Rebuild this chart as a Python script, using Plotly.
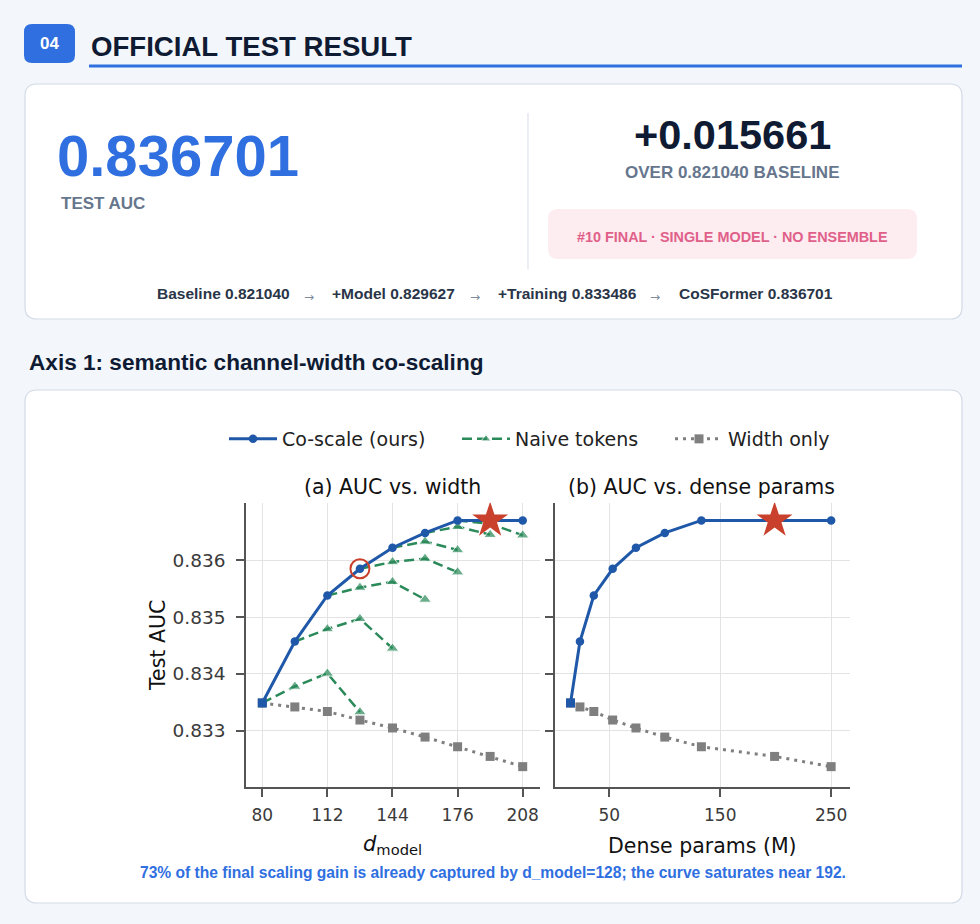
import plotly.graph_objects as go

W, H = 980, 924

# ---- data ----
d_model = [80, 96, 112, 128, 144, 160, 176, 192, 208]
dense_params_m = [15, 23.5, 36, 53, 74, 100, 133, 199, 250]
coscale_auc = [0.83349, 0.83457, 0.83538, 0.83585, 0.83622, 0.83648, 0.83670, 0.836701, 0.83670]
width_only_auc = [0.83349, 0.83342, 0.83334, 0.83319, 0.83305, 0.83289, 0.83272, 0.83255, 0.83237]

# naive-token branches, each starting on a co-scale point
naive_start_d = [80, 96, 112, 128, 144, 160, 176]
naive_branch_auc = [
    [0.83349, 0.83378, 0.83401, 0.83333],
    [0.83457, 0.83479, 0.83497, 0.83445],
    [0.83538, 0.83552, 0.83562, 0.83531],
    [0.83585, 0.83597, 0.83603, 0.83579],
    [0.83622, 0.83633, 0.83618],
    [0.83648, 0.83659, 0.83645],
    [0.83670, 0.83664, 0.83644],
]

best_d = 192
best_params = 199
best_auc = 0.836701
knee_d = 128
knee_auc = 0.83585

x_ticks_a = [80, 112, 144, 176, 208]
x_ticks_b = [50, 150, 250]
y_ticks = [0.833, 0.834, 0.835, 0.836]

test_auc = "0.836701"
delta_auc = "+0.015661"
baseline_txt = "OVER 0.821040 BASELINE"
badge_txt = "#10 FINAL · SINGLE MODEL · NO ENSEMBLE"
steps = ["Baseline 0.821040", "+Model 0.829627", "+Training 0.833486", "CoSFormer 0.836701"]
caption = "73% of the final scaling gain is already captured by d_model=128; the curve saturates near 192."

BLUE = "#1f58a8"
GREEN = "#2b8a5a"
GREY = "#7f7f7f"
RED = "#c9412c"
ACCENT = "#2f6fdf"
NAVY = "#0f1b33"
MUTED = "#66768d"
CHART_FONT = "DejaVu Sans"
UI_FONT = "Liberation Sans"


def px(x):
    return x / W


def py(y):
    return 1 - y / H


def rrect(x0, y0, x1, y1, r):
    def P(x, y):
        return f"{px(x):.5f},{py(y):.5f}"
    return ("M" + P(x0 + r, y0) + " L" + P(x1 - r, y0) + " Q" + P(x1, y0) + " " + P(x1, y0 + r)
            + " L" + P(x1, y1 - r) + " Q" + P(x1, y1) + " " + P(x1 - r, y1)
            + " L" + P(x0 + r, y1) + " Q" + P(x0, y1) + " " + P(x0, y1 - r)
            + " L" + P(x0, y0 + r) + " Q" + P(x0, y0) + " " + P(x0 + r, y0) + " Z")


fig = go.Figure()

# naive branches as one trace separated by gaps (start points hidden under co-scale)
nx, ny, nsize = [], [], []
for d0, branch in zip(naive_start_d, naive_branch_auc):
    i = d_model.index(d0)
    nx += d_model[i:i + len(branch)] + [None]
    ny += branch + [None]
    nsize += [0] + [11] * (len(branch) - 1) + [11]

for xa, ya, xs, show in [("x", "y", d_model, True), ("x2", "y2", dense_params_m, False)]:
    fig.add_trace(go.Scatter(
        x=xs, y=width_only_auc, xaxis=xa, yaxis=ya, name="Width only",
        mode="lines+markers", legendrank=3, showlegend=show, legendgroup="w",
        line=dict(color=GREY, width=3, dash="3px,5px"),
        marker=dict(symbol="square", size=9, color=GREY)))
    if xa == "x":
        fig.add_trace(go.Scatter(
            x=nx, y=ny, xaxis=xa, yaxis=ya, name="Naive tokens",
            mode="lines+markers", legendrank=2, connectgaps=False, legendwidth=150,
            line=dict(color=GREEN, width=2.5, dash="10px,5px"),
            marker=dict(symbol="triangle-up", size=nsize, color=GREEN)))
    fig.add_trace(go.Scatter(
        x=xs, y=coscale_auc, xaxis=xa, yaxis=ya, name="Co-scale (ours)",
        mode="lines+markers", legendrank=1, showlegend=show, legendgroup="c",
        legendwidth=170,
        line=dict(color=BLUE, width=3),
        marker=dict(symbol="circle", size=8.5, color=BLUE)))
    fig.add_trace(go.Scatter(
        x=xs[:1], y=coscale_auc[:1], xaxis=xa, yaxis=ya, showlegend=False,
        mode="markers", marker=dict(symbol="square", size=9, color=BLUE)))

fig.add_trace(go.Scatter(x=[best_d], y=[best_auc], xaxis="x", yaxis="y", mode="markers",
                         showlegend=False, marker=dict(symbol="star", size=27, color=RED)))
fig.add_trace(go.Scatter(x=[best_params], y=[best_auc], xaxis="x2", yaxis="y2", mode="markers",
                         showlegend=False, marker=dict(symbol="star", size=27, color=RED)))
fig.add_trace(go.Scatter(x=[knee_d], y=[knee_auc], xaxis="x", yaxis="y", mode="markers",
                         showlegend=False,
                         marker=dict(symbol="circle-open", size=19, color=RED, line=dict(width=2))))

axis_style = dict(
    showline=True, linecolor="#555555", linewidth=1.6,
    ticks="outside", ticklen=8, tickwidth=1.6, tickcolor="#555555",
    showgrid=True, gridcolor="#e3e3e3", gridwidth=1, zeroline=False,
)
tick_font_x = dict(family=CHART_FONT, size=17, color="#3a3a3a")
tick_font_y = dict(family=CHART_FONT, size=18.5, color="#3a3a3a")
ydom = [py(787), py(502.7)]

fig.update_layout(
    width=W, height=H,
    margin=dict(l=0, r=0, t=0, b=0),
    paper_bgcolor="#f3f6fb",
    plot_bgcolor="rgba(0,0,0,0)",
    xaxis=dict(domain=[px(246), px(540)], range=[72, 216.5], tickvals=x_ticks_a,
               anchor="y", ticklabelstandoff=4, tickfont=tick_font_x, **axis_style),
    yaxis=dict(domain=ydom, range=[0.832012, 0.837012], tickvals=y_ticks, tickformat=".3f",
               anchor="x", ticklabelstandoff=7, tickfont=tick_font_y, **axis_style),
    xaxis2=dict(domain=[px(555), px(850)], range=[1, 267], tickvals=x_ticks_b,
                anchor="y2", ticklabelstandoff=4, tickfont=tick_font_x, **axis_style),
    yaxis2=dict(domain=ydom, range=[0.832012, 0.837012], tickvals=y_ticks, matches="y",
                anchor="x2", showticklabels=False, **axis_style),
    legend=dict(orientation="h", x=px(224), xanchor="left", y=py(439), yanchor="middle",
                font=dict(family=CHART_FONT, size=19, color="#222222"),
                itemwidth=48, bgcolor="rgba(0,0,0,0)", traceorder="normal"),
    showlegend=True,
)

shapes = [
    # header badge and underline
    dict(type="path", path=rrect(24, 24, 75, 63, 8), fillcolor=ACCENT, line=dict(width=0)),
    dict(type="line", x0=px(89), x1=px(962), y0=py(66), y1=py(66),
         line=dict(color=ACCENT, width=3)),
    # result card
    dict(type="path", path=rrect(25, 84, 962, 319, 12), fillcolor="white",
         line=dict(color="#d3dbe7", width=1.2)),
    dict(type="line", x0=px(528), x1=px(528), y0=py(113), y1=py(269),
         line=dict(color="#dde3ec", width=1.2)),
    dict(type="path", path=rrect(548, 209, 917, 259, 10), fillcolor="#fdecf0",
         line=dict(width=0)),
    # chart card
    dict(type="path", path=rrect(25, 390, 962, 903, 12), fillcolor="white",
         line=dict(color="#d3dbe7", width=1.2)),
]
for s in shapes:
    s.update(xref="paper", yref="paper", layer="below")
fig.update_layout(shapes=shapes)


def note(text, x, y, size, color, family=UI_FONT, xanchor="center", yanchor="middle", **kw):
    fig.add_annotation(text=text, x=px(x), y=py(y), xref="paper", yref="paper",
                       xanchor=xanchor, yanchor=yanchor, showarrow=False,
                       font=dict(family=family, size=size, color=color), **kw)


note("<b>04</b>", 49.5, 43.5, 17, "white")
note("<b>OFFICIAL TEST RESULT</b>", 89, 47, 27.6, NAVY, xanchor="left")
note(f"<b>{test_auc}</b>", 55, 155, 58, ACCENT, xanchor="left")
note("<b>TEST AUC</b>", 59, 204, 17, MUTED, xanchor="left")
note(f"<b>{delta_auc}</b>", 732, 135, 41.5, NAVY)
note(f"<b>{baseline_txt}</b>", 732, 172, 17, MUTED)
note(f"<b>{badge_txt}</b>", 732, 237, 14.4, "#e0608a")

step_x = [155, 330, 496, 677]
arrow_x = [309, 475, 655]
for sx, st in zip(step_x, steps):
    note(f"<b>{st}</b>", sx, 294, 15.5, "#2a3548", xanchor="left")
for ax in arrow_x:
    note("→", ax, 297, 12, "#7d8a9c", family=CHART_FONT)

note("<b>Axis 1: semantic channel-width co-scaling</b>", 27, 363, 22.6, NAVY, xanchor="left")

note("(a) AUC vs. width", 392, 487, 20.5, "#111111", family=CHART_FONT)
note("(b) AUC vs. dense params", 701.5, 487, 20.5, "#111111", family=CHART_FONT)
note("Test AUC", 158, 646, 20.5, "#111111", family=CHART_FONT, textangle=-90)
note("<i>d</i><sub>model</sub>", 392, 845, 21, "#111111", family=CHART_FONT)
note("Dense params (M)", 702, 846, 20.5, "#111111", family=CHART_FONT)
note(f"<b>{caption}</b>", 493, 872, 15.6, ACCENT)

fig.write_html("out.html", config={"displayModeBar": False},
               post_script="document.body.style.margin='0';")
